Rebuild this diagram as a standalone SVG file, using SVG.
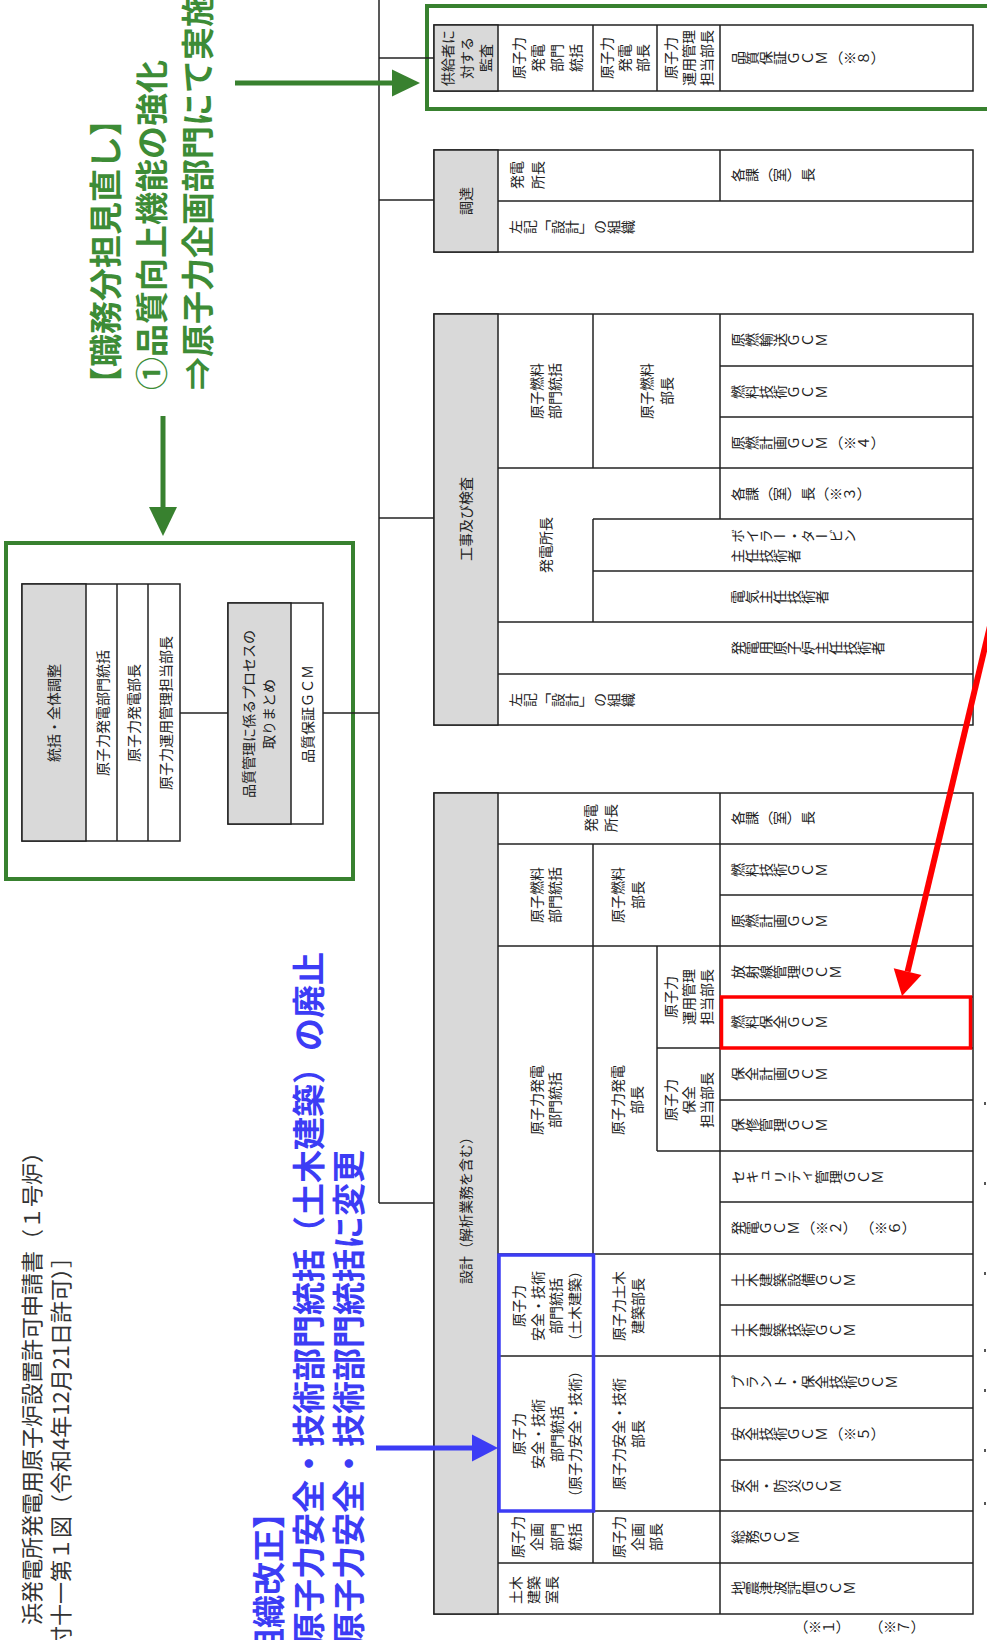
<svg xmlns="http://www.w3.org/2000/svg" width="987" height="1640" viewBox="0 0 987 1640">
<style>
.cell{fill:#fff;stroke:#222;stroke-width:1.5}
.hdr{fill:#d9d9d9;stroke:#222;stroke-width:1.5}
.ln{stroke:#222;stroke-width:1.5;fill:none}
.t{font-family:"Noto Sans CJK JP","Noto Sans",sans-serif;font-size:14px;fill:#222;text-anchor:middle;dominant-baseline:central}
.v{font-family:"Noto Sans CJK JP","Noto Sans",sans-serif;font-size:14px;fill:#222;writing-mode:vertical-rl}
.ga{font-family:"Noto Sans CJK JP","Noto Sans",sans-serif;font-size:33px;font-weight:bold;fill:#3d8c36;dominant-baseline:central}
.ba{font-family:"Noto Sans CJK JP","Noto Sans",sans-serif;font-size:33px;font-weight:bold;fill:#3c3cf5;dominant-baseline:central}
.ti{font-family:"Noto Sans CJK JP","Noto Sans",sans-serif;font-size:22px;fill:#333;dominant-baseline:central}
.green{stroke:#38812f;fill:none}
</style>

<g id="title">
<text class="ti" transform="rotate(-90 30 1625)" x="30" y="1625">浜発電所発電用原子炉設置許可申請書（１号炉）</text>
<text class="ti" transform="rotate(-90 59 1648)" x="59" y="1648">付十一第１図（令和4年12月21日許可）］</text>
</g>

<g id="annotation-green">
<text class="ga" transform="rotate(-90 104 400)" x="104" y="400">【職務分担見直し】</text>
<text class="ga" transform="rotate(-90 150 390)" x="150" y="390">①品質向上機能の強化</text>
<text class="ga" transform="rotate(-90 196 390)" x="196" y="390">⇒原子力企画部門にて実施</text>
</g>

<g id="annotation-blue">
<text class="ba" transform="rotate(-90 267 1694)" x="267" y="1694">【組織改正】</text>
<text class="ba" transform="rotate(-90 307 1645)" x="307" y="1645">原子力安全・技術部門統括（土木建築）の廃止</text>
<text class="ba" transform="rotate(-90 347 1645)" x="347" y="1645">原子力安全・技術部門統括に変更</text>
</g>

<g id="n-qa-box">
<rect class="green" x="6" y="543" width="347" height="336" stroke-width="4"/>
<rect class="cell" x="22" y="584" width="158" height="257"/>
<rect class="hdr" x="22" y="584" width="64" height="257"/>
<line class="ln" x1="117" y1="584" x2="117" y2="841"/>
<line class="ln" x1="148" y1="584" x2="148" y2="841"/>
<text class="t" transform="rotate(-90 53 713)" x="53" y="713">統括・全体調整</text>
<text class="t" transform="rotate(-90 102 713)" x="102" y="713">原子力発電部門統括</text>
<text class="t" transform="rotate(-90 133 713)" x="133" y="713">原子力発電部長</text>
<text class="t" transform="rotate(-90 165 713)" x="165" y="713">原子力運用管理担当部長</text>
<rect class="cell" x="228" y="603" width="95" height="221"/>
<rect class="hdr" x="228" y="603" width="63" height="221"/>
<text class="t" transform="rotate(-90 248 714)" x="248" y="714">品質管理に係るプロセスの</text>
<text class="t" transform="rotate(-90 268 714)" x="268" y="714">取りまとめ</text>
<text class="t" transform="rotate(-90 307 714)" x="307" y="714">品質保証ＧＣＭ</text>
</g>

<g id="n-audit">
<rect class="green" x="427" y="6" width="580" height="103" stroke-width="4"/>
<rect class="cell" x="434" y="25" width="539" height="66"/>
<rect class="hdr" x="434" y="25" width="64" height="66"/>
<line class="ln" x1="593" y1="25" x2="593" y2="91"/>
<line class="ln" x1="657" y1="25" x2="657" y2="91"/>
<line class="ln" x1="720" y1="25" x2="720" y2="91"/>
<text class="t" transform="rotate(-90 447 58)" x="447" y="58">供給者に</text>
<text class="t" transform="rotate(-90 466 58)" x="466" y="58">対する</text>
<text class="t" transform="rotate(-90 485 58)" x="485" y="58">監査</text>
<text class="t" transform="rotate(-90 518 58)" x="518" y="58">原子力</text>
<text class="t" transform="rotate(-90 537 58)" x="537" y="58">発電</text>
<text class="t" transform="rotate(-90 556 58)" x="556" y="58">部門</text>
<text class="t" transform="rotate(-90 575 58)" x="575" y="58">統括</text>
<text class="t" transform="rotate(-90 606 58)" x="606" y="58">原子力</text>
<text class="t" transform="rotate(-90 624 58)" x="624" y="58">発電</text>
<text class="t" transform="rotate(-90 642 58)" x="642" y="58">部長</text>
<text class="t" transform="rotate(-90 670 58)" x="670" y="58">原子力</text>
<text class="t" transform="rotate(-90 688 58)" x="688" y="58">運用管理</text>
<text class="t" transform="rotate(-90 706 58)" x="706" y="58">担当部長</text>
<text class="v" transform="rotate(-90 731 58)" x="731" y="58">品質保証ＧＣＭ（※８）</text>
</g>

<g id="n-procure">
<rect class="cell" x="434" y="150" width="539" height="102"/>
<rect class="hdr" x="434" y="150" width="64" height="102"/>
<line class="ln" x1="720" y1="150" x2="720" y2="201"/>
<line class="ln" x1="498" y1="201" x2="973" y2="201"/>
<text class="t" transform="rotate(-90 465 201)" x="465" y="201">調達</text>
<text class="t" transform="rotate(-90 516 175)" x="516" y="175">発電</text>
<text class="t" transform="rotate(-90 537 175)" x="537" y="175">所長</text>
<text class="v" transform="rotate(-90 731 175)" x="731" y="175">各課（室）長</text>
<text class="v" transform="rotate(-90 509 227)" x="509" y="227">左記「設計」の組織</text>
</g>

<g id="n-construction">
<rect class="cell" x="434" y="314" width="539" height="411"/>
<rect class="hdr" x="434" y="314" width="64" height="411"/>
<line class="ln" x1="593" y1="314" x2="593" y2="468"/>
<line class="ln" x1="593" y1="519" x2="593" y2="622"/>
<line class="ln" x1="720" y1="314" x2="720" y2="519"/>
<line class="ln" x1="720" y1="366" x2="973" y2="366"/>
<line class="ln" x1="720" y1="417" x2="973" y2="417"/>
<line class="ln" x1="498" y1="468" x2="973" y2="468"/>
<line class="ln" x1="593" y1="519" x2="973" y2="519"/>
<line class="ln" x1="593" y1="571" x2="973" y2="571"/>
<line class="ln" x1="498" y1="622" x2="973" y2="622"/>
<line class="ln" x1="498" y1="674" x2="973" y2="674"/>
<text class="t" transform="rotate(-90 465 519)" x="465" y="519">工事及び検査</text>
<text class="t" transform="rotate(-90 536 391)" x="536" y="391">原子燃料</text>
<text class="t" transform="rotate(-90 554 391)" x="554" y="391">部門統括</text>
<text class="t" transform="rotate(-90 646 391)" x="646" y="391">原子燃料</text>
<text class="t" transform="rotate(-90 666 391)" x="666" y="391">部長</text>
<text class="v" transform="rotate(-90 731 340)" x="731" y="340">原燃輸送ＧＣＭ</text>
<text class="v" transform="rotate(-90 731 392)" x="731" y="392">燃料技術ＧＣＭ</text>
<text class="v" transform="rotate(-90 731 443)" x="731" y="443">原燃計画ＧＣＭ（※４）</text>
<text class="t" transform="rotate(-90 545 545)" x="545" y="545">発電所長</text>
<text class="v" transform="rotate(-90 731 494)" x="731" y="494">各課（室）長（※３）</text>
<text class="v" transform="rotate(-90 731 536)" x="731" y="536">ボイラー・タービン</text>
<text class="v" transform="rotate(-90 731 556)" x="731" y="556">主任技術者</text>
<text class="v" transform="rotate(-90 731 597)" x="731" y="597">電気主任技術者</text>
<text class="v" transform="rotate(-90 731 648)" x="731" y="648">発電用原子炉主任技術者</text>
<text class="v" transform="rotate(-90 509 700)" x="509" y="700">左記「設計」の組織</text>
</g>

<g id="n-design">
<rect class="cell" x="434" y="793" width="539" height="821"/>
<rect class="hdr" x="434" y="793" width="64" height="821"/>
<line class="ln" x1="593" y1="844" x2="593" y2="1563"/>
<line class="ln" x1="657" y1="946" x2="657" y2="1151"/>
<line class="ln" x1="720" y1="793" x2="720" y2="1614"/>
<line class="ln" x1="498" y1="844" x2="973" y2="844"/>
<line class="ln" x1="720" y1="895" x2="973" y2="895"/>
<line class="ln" x1="498" y1="946" x2="973" y2="946"/>
<line class="ln" x1="720" y1="997" x2="973" y2="997"/>
<line class="ln" x1="657" y1="1048" x2="973" y2="1048"/>
<line class="ln" x1="720" y1="1100" x2="973" y2="1100"/>
<line class="ln" x1="657" y1="1151" x2="973" y2="1151"/>
<line class="ln" x1="720" y1="1202" x2="973" y2="1202"/>
<line class="ln" x1="498" y1="1254" x2="973" y2="1254"/>
<line class="ln" x1="720" y1="1305" x2="973" y2="1305"/>
<line class="ln" x1="498" y1="1356" x2="973" y2="1356"/>
<line class="ln" x1="720" y1="1408" x2="973" y2="1408"/>
<line class="ln" x1="720" y1="1460" x2="973" y2="1460"/>
<line class="ln" x1="498" y1="1511" x2="973" y2="1511"/>
<line class="ln" x1="498" y1="1563" x2="973" y2="1563"/>
<text class="t" transform="rotate(-90 465 1207)" x="465" y="1207">設計（解析業務を含む）</text>
<text class="t" transform="rotate(-90 590 818)" x="590" y="818">発電</text>
<text class="t" transform="rotate(-90 610 818)" x="610" y="818">所長</text>
<text class="v" transform="rotate(-90 731 818)" x="731" y="818">各課（室）長</text>
<text class="t" transform="rotate(-90 536 895)" x="536" y="895">原子燃料</text>
<text class="t" transform="rotate(-90 554 895)" x="554" y="895">部門統括</text>
<text class="t" transform="rotate(-90 617 895)" x="617" y="895">原子燃料</text>
<text class="t" transform="rotate(-90 637 895)" x="637" y="895">部長</text>
<text class="v" transform="rotate(-90 731 870)" x="731" y="870">燃料技術ＧＣＭ</text>
<text class="v" transform="rotate(-90 731 921)" x="731" y="921">原燃計画ＧＣＭ</text>
<text class="t" transform="rotate(-90 536 1100)" x="536" y="1100">原子力発電</text>
<text class="t" transform="rotate(-90 554 1100)" x="554" y="1100">部門統括</text>
<text class="t" transform="rotate(-90 617 1100)" x="617" y="1100">原子力発電</text>
<text class="t" transform="rotate(-90 636 1100)" x="636" y="1100">部長</text>
<text class="t" transform="rotate(-90 670 997)" x="670" y="997">原子力</text>
<text class="t" transform="rotate(-90 688 997)" x="688" y="997">運用管理</text>
<text class="t" transform="rotate(-90 706 997)" x="706" y="997">担当部長</text>
<text class="t" transform="rotate(-90 670 1100)" x="670" y="1100">原子力</text>
<text class="t" transform="rotate(-90 688 1100)" x="688" y="1100">保全</text>
<text class="t" transform="rotate(-90 706 1100)" x="706" y="1100">担当部長</text>
<text class="v" transform="rotate(-90 731 972)" x="731" y="972">放射線管理ＧＣＭ</text>
<text class="v" transform="rotate(-90 731 1022)" x="731" y="1022">燃料保全ＧＣＭ</text>
<text class="v" transform="rotate(-90 731 1074)" x="731" y="1074">保全計画ＧＣＭ</text>
<text class="v" transform="rotate(-90 731 1125)" x="731" y="1125">保修管理ＧＣＭ</text>
<text class="v" transform="rotate(-90 731 1177)" x="731" y="1177">セキュリティ管理ＧＣＭ</text>
<text class="v" transform="rotate(-90 731 1228)" x="731" y="1228">発電ＧＣＭ（※２） （※６）</text>
<text class="t" transform="rotate(-90 518 1306)" x="518" y="1306">原子力</text>
<text class="t" transform="rotate(-90 537 1306)" x="537" y="1306">安全・技術</text>
<text class="t" transform="rotate(-90 555 1306)" x="555" y="1306">部門統括</text>
<text class="t" transform="rotate(-90 574 1306)" x="574" y="1306">（土木建築）</text>
<text class="t" transform="rotate(-90 618 1306)" x="618" y="1306">原子力土木</text>
<text class="t" transform="rotate(-90 637 1306)" x="637" y="1306">建築部長</text>
<text class="v" transform="rotate(-90 731 1280)" x="731" y="1280">土木建築設備ＧＣＭ</text>
<text class="v" transform="rotate(-90 731 1330)" x="731" y="1330">土木建築技術ＧＣＭ</text>
<text class="t" transform="rotate(-90 518 1434)" x="518" y="1434">原子力</text>
<text class="t" transform="rotate(-90 537 1434)" x="537" y="1434">安全・技術</text>
<text class="t" transform="rotate(-90 556 1434)" x="556" y="1434">部門統括</text>
<text class="t" transform="rotate(-90 574 1434)" x="574" y="1434">（原子力安全・技術）</text>
<text class="t" transform="rotate(-90 618 1434)" x="618" y="1434">原子力安全・技術</text>
<text class="t" transform="rotate(-90 637 1434)" x="637" y="1434">部長</text>
<text class="v" transform="rotate(-90 731 1382)" x="731" y="1382">プラント・保全技術ＧＣＭ</text>
<text class="v" transform="rotate(-90 731 1434)" x="731" y="1434">安全技術ＧＣＭ（※５）</text>
<text class="v" transform="rotate(-90 731 1486)" x="731" y="1486">安全・防災ＧＣＭ</text>
<text class="t" transform="rotate(-90 517 1537)" x="517" y="1537">原子力</text>
<text class="t" transform="rotate(-90 536 1537)" x="536" y="1537">企画</text>
<text class="t" transform="rotate(-90 556 1537)" x="556" y="1537">部門</text>
<text class="t" transform="rotate(-90 574 1537)" x="574" y="1537">統括</text>
<text class="t" transform="rotate(-90 618 1537)" x="618" y="1537">原子力</text>
<text class="t" transform="rotate(-90 637 1537)" x="637" y="1537">企画</text>
<text class="t" transform="rotate(-90 655 1537)" x="655" y="1537">部長</text>
<text class="v" transform="rotate(-90 731 1537)" x="731" y="1537">総務ＧＣＭ</text>
<text class="t" transform="rotate(-90 515 1590)" x="515" y="1590">土木</text>
<text class="t" transform="rotate(-90 533 1590)" x="533" y="1590">建築</text>
<text class="t" transform="rotate(-90 551 1590)" x="551" y="1590">室長</text>
<text class="v" transform="rotate(-90 731 1588)" x="731" y="1588">地震津波評価ＧＣＭ</text>
<text class="v" transform="rotate(-90 794 1627)" x="794" y="1627">（※１）</text>
<text class="v" transform="rotate(-90 869 1627)" x="869" y="1627">（※７）</text>
<rect x="499" y="1255" width="94.5" height="256" fill="none" stroke="#3c3cf5" stroke-width="3.5"/>
<rect x="721.5" y="997" width="249" height="51" fill="none" stroke="#ff0000" stroke-width="3.5"/>
</g>

<g id="edge-marks" fill="#555">
<rect x="984" y="1102" width="2" height="3"/>
<rect x="984" y="1182" width="2" height="3"/>
<rect x="984" y="1272" width="2" height="3"/>
<rect x="984" y="1349" width="2" height="3"/>
<rect x="984" y="1389" width="2" height="3"/>
<rect x="984" y="1449" width="2" height="3"/>
<rect x="984" y="1502" width="2" height="3"/>
</g>

<g id="connectors">
<line class="ln" x1="379" y1="0" x2="379" y2="1203"/>
<line class="ln" x1="379" y1="58" x2="434" y2="58"/>
<line class="ln" x1="379" y1="200" x2="434" y2="200"/>
<line class="ln" x1="379" y1="518" x2="434" y2="518"/>
<line class="ln" x1="379" y1="1203" x2="434" y2="1203"/>
<line class="ln" x1="323" y1="713" x2="379" y2="713"/>
<line class="ln" x1="180" y1="713" x2="228" y2="713"/>
<line x1="235" y1="83" x2="394" y2="83" stroke="#38812f" stroke-width="5"/>
<polygon points="392,69.5 420,83 392,96.5" fill="#38812f"/>
<line x1="163" y1="416" x2="163" y2="509" stroke="#38812f" stroke-width="5"/>
<polygon points="149,507 177,507 163,536" fill="#38812f"/>
<line x1="376" y1="1448" x2="474" y2="1448" stroke="#3c3cf5" stroke-width="5"/>
<polygon points="472,1434.5 498,1448 472,1461.5" fill="#3c3cf5"/>
<line x1="990" y1="626" x2="907.6" y2="971.6" stroke="#ff0000" stroke-width="6"/>
<polygon points="921.5,974.9 902,996 893.7,968.3" fill="#ff0000"/>
</g>
</svg>
